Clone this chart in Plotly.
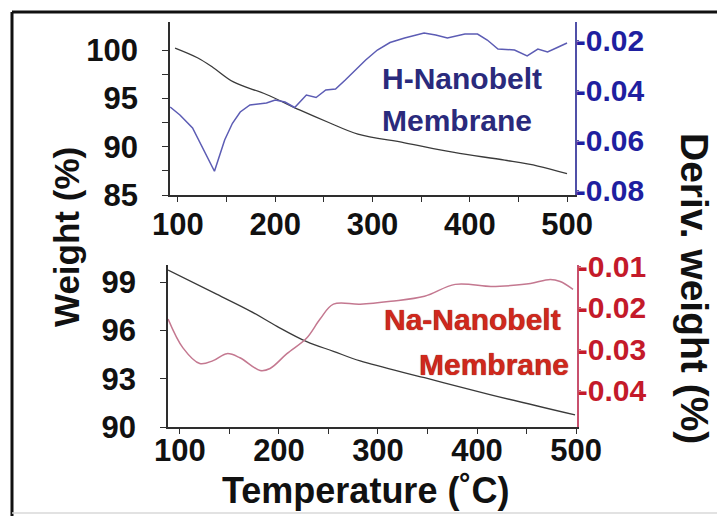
import plotly.graph_objects as go

# ---- TGA data: H-nanobelt membrane (top panel) ----
h_temp_w = [97, 120, 136, 157, 191, 225, 255, 285, 333, 384, 436, 470, 500]
h_weight = [100.2, 99.2, 98.2, 96.7, 95.4, 93.8, 92.5, 91.3, 90.4, 89.4, 88.6, 88.0, 87.2]

h_temp_d = [92, 102, 115, 137.5, 148, 156, 164, 174, 191, 200, 210, 220, 232, 242,
            252, 262, 272, 282, 293, 305, 318, 333, 353, 365, 377, 395, 408, 418,
            429, 446, 459, 470, 480, 490, 500]
h_deriv = [-0.0468, -0.050, -0.0552, -0.0725, -0.060, -0.0533, -0.0488, -0.046,
           -0.0452, -0.044, -0.0448, -0.047, -0.042, -0.043, -0.040, -0.0396,
           -0.036, -0.032, -0.028, -0.024, -0.021, -0.0192, -0.0172, -0.018,
           -0.0192, -0.0176, -0.0176, -0.020, -0.0236, -0.024, -0.0264, -0.0236,
           -0.0248, -0.023, -0.0212]

# ---- TGA data: Na-nanobelt membrane (bottom panel) ----
na_temp_w = [88, 137, 171, 198, 228, 255, 282, 347, 414, 499]
na_weight = [99.75, 98.25, 97.2, 96.25, 95.3, 94.7, 94.1, 93.06, 92.0, 90.75]

na_temp_d = [88, 103, 120, 133.5, 147.5, 160.5, 181, 191, 208, 228, 241.5, 255,
             282, 313, 347, 378, 414, 434, 454, 474, 484, 497]
na_deriv = [-0.0227, -0.0297, -0.0335, -0.0328, -0.0311, -0.0321, -0.0352,
            -0.0347, -0.0311, -0.0273, -0.0227, -0.0191, -0.0191, -0.0184,
            -0.0172, -0.0143, -0.0148, -0.0146, -0.0141, -0.0131, -0.0136, -0.0155]

# ---- tick definitions ----
temp_ticks = [100, 200, 300, 400, 500]
temp_minor = [150, 250, 350, 450]
h_w_ticks = [85, 90, 95, 100]
h_w_minor = [87.5, 92.5, 97.5]
h_d_ticks = [-0.08, -0.06, -0.04, -0.02]
h_d_labels = ["-0.08", "-0.06", "-0.04", "-0.02"]
na_w_ticks = [90, 93, 96, 99]
na_d_ticks = [-0.04, -0.03, -0.02, -0.01]
na_d_labels = ["-0.04", "-0.03", "-0.02", "-0.01"]

W, H = 717, 516
FONT = "Liberation Sans, Arial, sans-serif"
AXIS_COL = "#2e2e2e"
BLUE_AX = "#5050a8"
BLUE_TXT = "#1f1fa0"
RED_AX = "#c8506e"
RED_TXT = "#c41a2a"


def px_x(p):
    return p / W


def px_y(p):
    return 1 - p / H


fig = go.Figure()

fig.add_trace(go.Scatter(x=h_temp_w, y=h_weight, mode="lines", xaxis="x", yaxis="y",
                         line=dict(color="#3a3a3a", width=1.3), line_shape="spline"))
fig.add_trace(go.Scatter(x=h_temp_d, y=h_deriv, mode="lines", xaxis="x", yaxis="y2",
                         line=dict(color="#5c5cb4", width=1.5)))
fig.add_trace(go.Scatter(x=na_temp_w, y=na_weight, mode="lines", xaxis="x2", yaxis="y3",
                         line=dict(color="#3a3a3a", width=1.3), line_shape="spline"))
fig.add_trace(go.Scatter(x=na_temp_d, y=na_deriv, mode="lines", xaxis="x2", yaxis="y4",
                         line=dict(color="#c47890", width=1.5), line_shape="spline"))

common = dict(showgrid=False, zeroline=False, showline=True, linewidth=1.5,
              ticks="outside", tickwidth=1.2, fixedrange=True, automargin=False)
tickfont = dict(family=FONT, size=31, color="#111111", weight="bold")

fig.update_layout(
    width=W, height=H,
    margin=dict(l=0, r=0, t=0, b=0),
    paper_bgcolor="white", plot_bgcolor="white",
    showlegend=False,
    xaxis=dict(domain=[px_x(170), px_x(575)], anchor="y", range=[91.8, 508.2],
               tickvals=temp_ticks, ticklen=5, linecolor=AXIS_COL, tickcolor=AXIS_COL,
               minor=dict(tickvals=temp_minor, ticks="outside", ticklen=5, tickcolor=AXIS_COL),
               tickfont=tickfont, ticklabelstandoff=-4, **common),
    yaxis=dict(domain=[px_y(195), px_y(22)], anchor="x", range=[85, 102.9],
               tickvals=h_w_ticks, ticklen=6, linecolor=AXIS_COL, tickcolor=AXIS_COL,
               minor=dict(tickvals=h_w_minor, ticks="outside", ticklen=6, tickcolor=AXIS_COL),
               tickfont=tickfont, ticklabelstandoff=18, **common),
    yaxis2=dict(overlaying="y", side="right", anchor="x", range=[-0.082, -0.0128],
                tickvals=h_d_ticks, ticktext=h_d_labels, ticklen=2,
                linecolor=BLUE_AX, tickcolor=BLUE_AX,
                tickfont=dict(family=FONT, size=30, color=BLUE_TXT, weight="bold"),
                ticklabelstandoff=-9, **common),
    xaxis2=dict(domain=[px_x(168), px_x(577)], anchor="y3", range=[87.9, 501],
                tickvals=temp_ticks, ticklen=5, linecolor=AXIS_COL, tickcolor=AXIS_COL,
                minor=dict(tickvals=temp_minor, ticks="outside", ticklen=5, tickcolor=AXIS_COL),
                tickfont=tickfont, ticklabelstandoff=-10, **common),
    yaxis3=dict(domain=[px_y(427), px_y(265)], anchor="x2", range=[90, 100.06],
                tickvals=na_w_ticks, ticklen=6, linecolor=AXIS_COL, tickcolor=AXIS_COL,
                tickfont=tickfont, ticklabelstandoff=18, **common),
    yaxis4=dict(overlaying="y3", side="right", anchor="x2", range=[-0.0489, -0.0096],
                tickvals=na_d_ticks, ticktext=na_d_labels, ticklen=2,
                linecolor=RED_AX, tickcolor=RED_AX,
                tickfont=dict(family=FONT, size=30, color=RED_TXT, weight="bold"),
                ticklabelstandoff=-9, **common),
)

annotations = [
    dict(text="<b>H-Nanobelt</b>", x=px_x(380), y=px_y(78), xanchor="left", yanchor="middle",
         font=dict(family=FONT, size=30, color="#2a2a7c")),
    dict(text="<b>Membrane</b>", x=px_x(380), y=px_y(121), xanchor="left", yanchor="middle",
         font=dict(family=FONT, size=30, color="#2a2a7c")),
    dict(text="<b>Na-Nanobelt</b>", x=px_x(563), y=px_y(319), xanchor="right", yanchor="middle",
         font=dict(family=FONT, size=30, color="#d0281c", shadow="0px 0px 1px #6a1010")),
    dict(text="<b>Membrane</b>", x=px_x(571), y=px_y(364), xanchor="right", yanchor="middle",
         font=dict(family=FONT, size=30, color="#d0281c", shadow="0px 0px 1px #6a1010")),
    dict(text="<b>Weight (%)</b>", x=px_x(67), y=px_y(237), textangle=-90,
         xanchor="center", yanchor="middle",
         font=dict(family=FONT, size=35, color="#111111")),
    dict(text="<b>Deriv. weight (%)</b>", x=px_x(695), y=px_y(288), textangle=90,
         xanchor="center", yanchor="middle",
         font=dict(family=FONT, size=39, color="#111111")),
    dict(text="<b>Temperature (˚C)</b>", x=px_x(365), y=px_y(490),
         xanchor="center", yanchor="middle",
         font=dict(family=FONT, size=36, color="#111111")),
]
for a in annotations:
    a.update(xref="paper", yref="paper", showarrow=False)
fig.update_layout(annotations=annotations)

# outer frame around the figure
fig.update_layout(shapes=[
    dict(type="line", xref="paper", yref="paper", x0=px_x(12), x1=1.0,
         y0=px_y(12), y1=px_y(12), line=dict(color="#111111", width=3)),
    dict(type="line", xref="paper", yref="paper", x0=px_x(12), x1=px_x(12),
         y0=px_y(12), y1=0.0, line=dict(color="#111111", width=3)),
    dict(type="line", xref="paper", yref="paper", x0=px_x(12), x1=1.0,
         y0=px_y(513), y1=px_y(513), line=dict(color="#d8d8d8", width=1.5)),
])

fig.write_html("out.html")
